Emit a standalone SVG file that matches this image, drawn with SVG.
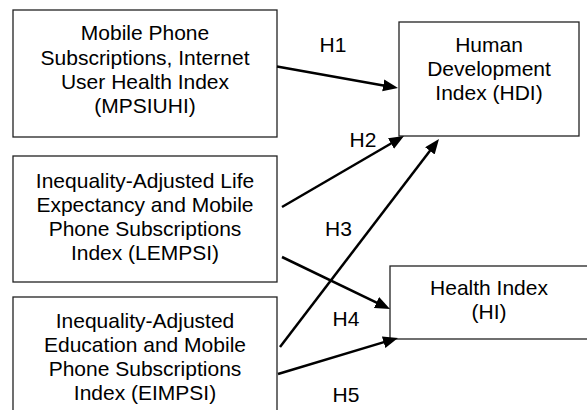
<svg xmlns="http://www.w3.org/2000/svg" width="587" height="410" viewBox="0 0 587 410">
<style>
.box{fill:#fff;stroke:#222;stroke-width:1.3}
.t{font-family:"Liberation Sans",Arial,sans-serif;font-size:21px;fill:#000;text-anchor:middle}
.arr{stroke:#000;stroke-width:2.5;fill:none;marker-end:url(#ah)}
</style>
<defs>
<marker id="ah" markerUnits="userSpaceOnUse" markerWidth="16" markerHeight="13" refX="3" refY="6" orient="auto">
<path d="M0,0 L15,6 L0,12 z" fill="#000"/>
</marker>
</defs>
<rect width="587" height="410" fill="#fff"/>
<g id="mpsiuhi">
<rect class="box" x="13" y="10" width="264" height="127"/>
<text class="t" x="145" y="40">Mobile Phone</text>
<text class="t" x="145" y="64.5">Subscriptions, Internet</text>
<text class="t" x="145" y="89">User Health Index</text>
<text class="t" x="145" y="113">(MPSIUHI)</text>
</g>
<g id="lempsi">
<rect class="box" x="13" y="156" width="264" height="126"/>
<text class="t" x="145" y="188">Inequality-Adjusted Life</text>
<text class="t" x="145" y="212">Expectancy and Mobile</text>
<text class="t" x="145" y="236">Phone Subscriptions</text>
<text class="t" x="145" y="260">Index (LEMPSI)</text>
</g>
<g id="eimpsi">
<rect class="box" x="13" y="297" width="264" height="130"/>
<text class="t" x="145" y="328">Inequality-Adjusted</text>
<text class="t" x="145" y="352">Education and Mobile</text>
<text class="t" x="145" y="376">Phone Subscriptions</text>
<text class="t" x="145" y="400">Index (EIMPSI)</text>
</g>
<g id="hdi">
<rect class="box" x="399" y="22" width="180" height="114"/>
<text class="t" x="489" y="52">Human</text>
<text class="t" x="489" y="76">Development</text>
<text class="t" x="489" y="100">Index (HDI)</text>
</g>
<g id="hi">
<rect class="box" x="390" y="266" width="200" height="73"/>
<text class="t" x="489" y="295">Health Index</text>
<text class="t" x="489" y="319">(HI)</text>
</g>
<g id="connectors">
<line class="arr" x1="277" y1="66.5" x2="386.2" y2="85.9"/>
<line class="arr" x1="282" y1="207" x2="393.6" y2="142"/>
<line class="arr" x1="280" y1="347" x2="431.7" y2="148.5"/>
<line class="arr" x1="282" y1="257" x2="379.2" y2="303.8"/>
<line class="arr" x1="278" y1="374" x2="386.5" y2="341.4"/>
<text class="t" x="333" y="52">H1</text>
<text class="t" x="363" y="147">H2</text>
<text class="t" x="338.5" y="236">H3</text>
<text class="t" x="346" y="326">H4</text>
<text class="t" x="346" y="402">H5</text>
</g>
</svg>
